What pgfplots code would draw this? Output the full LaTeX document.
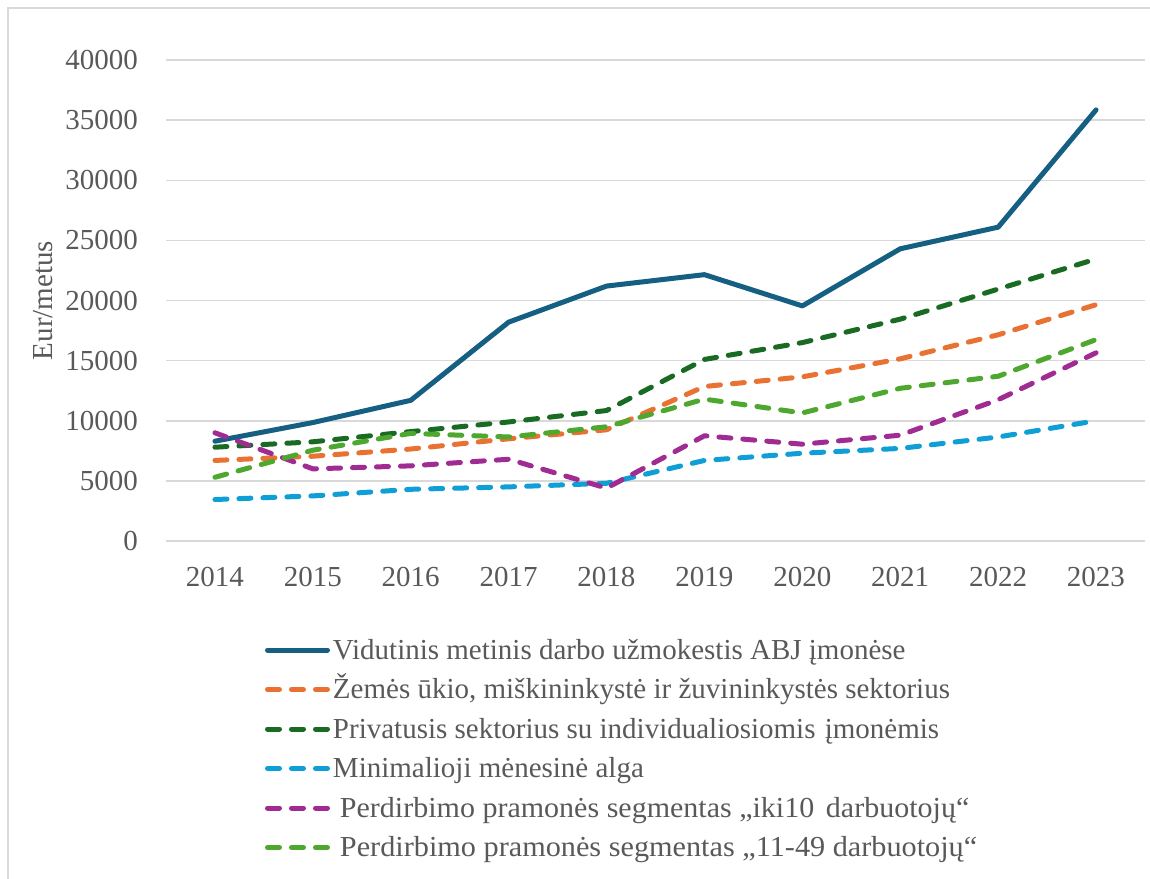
\documentclass[border=0pt]{standalone}
\usepackage{fontspec}
\setmainfont{Liberation Serif}
\usepackage{graphicx}
\usepackage{pgfplots}
\pgfplotsset{compat=1.18}
\definecolor{cA}{HTML}{156082}
\definecolor{cB}{HTML}{E97132}
\definecolor{cC}{HTML}{196B24}
\definecolor{cD}{HTML}{0F9ED5}
\definecolor{cE}{HTML}{A02B93}
\definecolor{cF}{HTML}{4EA72E}
\definecolor{gridgray}{HTML}{D9D9D9}
\definecolor{txtgray}{HTML}{595959}

\begin{document}
\fontsize{14.5bp}{17bp}\selectfont
\begin{tikzpicture}
\path[use as bounding box] (0,0) rectangle (575bp,-439.5bp);
\draw[gridgray, line width=0.75bp] (4bp,-440bp) -- (4bp,-4bp) -- (576bp,-4bp);
\begin{axis}[
    at={(83bp,-270.5bp)}, anchor=south west,
    scale only axis, width=489.5bp, height=240.5bp,
    xmin=2013.5, xmax=2023.5, ymin=0, ymax=40000,
    xtick={2014,...,2023}, ytick={0,5000,...,40000},
    scaled y ticks=false,
    /pgf/number format/assume math mode=true,
    /pgf/number format/set thousands separator={},
    ymajorgrids, major grid style={gridgray, line width=0.75bp},
    axis line style={draw=none}, major tick length=0pt,
    tick label style={font=\fontsize{14.5bp}{17bp}\selectfont, text=txtgray},
    xticklabel style={yshift=-8bp},
    yticklabel style={xshift=-9bp},
    ylabel={Eur/metus},
    ylabel style={at={(axis description cs:-0.126,0.5)}, anchor=center, font=\fontsize{14.5bp}{17bp}\selectfont, text=txtgray},
    every axis plot/.append style={line width=2.5bp, line cap=round, line join=round},
    legend image code/.code={\draw[#1] (1.25bp,0bp) -- (31.25bp,0bp);},
    legend cell align=left,
    legend style={at={(axis description cs:0.1011,-0.2079)}, anchor=north west,
        draw=none, fill=none, inner sep=0pt, outer sep=0pt, row sep=10.75bp,
        font=\fontsize{14.5bp}{17bp}\selectfont, text=txtgray,
        nodes={inner sep=0pt, text height=9bp, text depth=0bp},
        /tikz/every odd column/.style={column sep=1.5bp}},
]
\addplot[cA] coordinates {(2014,8300) (2015,9850) (2016,11700) (2017,18200) (2018,21200) (2019,22150) (2020,19550) (2021,24300) (2022,26100) (2023,35850)};
\addlegendentry{Vidutinis metinis darbo užmokestis ABJ įmonėse}
\addplot[cB, dash pattern=on 6bp off 6bp] coordinates {(2014,6700) (2015,7050) (2016,7650) (2017,8500) (2018,9250) (2019,12850) (2020,13650) (2021,15150) (2022,17150) (2023,19650)};
\addlegendentry{Žemės ūkio, miškininkystė ir žuvininkystės sektorius}
\addplot[cC, dash pattern=on 6bp off 6bp] coordinates {(2014,7800) (2015,8250) (2016,9100) (2017,9900) (2018,10850) (2019,15100) (2020,16500) (2021,18450) (2022,20950) (2023,23450)};
\addlegendentry{Privatusis sektorius su individualiosiomis \hspace{1bp}įmonėmis}
\addplot[cD, dash pattern=on 6bp off 6bp] coordinates {(2014,3450) (2015,3750) (2016,4300) (2017,4500) (2018,4800) (2019,6700) (2020,7300) (2021,7700) (2022,8650) (2023,10000)};
\addlegendentry{Minimalioji mėnesinė alga}
\addplot[cE, dash pattern=on 6bp off 6bp] coordinates {(2014,9000) (2015,6000) (2016,6250) (2017,6800) (2018,4400) (2019,8750) (2020,8050) (2021,8800) (2022,11750) (2023,15650)};
\addlegendentry{\hspace{3.5bp}\scalebox{1.035}[1]{Perdirbimo pramonės segmentas ,,iki10 \hspace{2bp}darbuotojų“}}
\addplot[cF, dash pattern=on 6bp off 6bp] coordinates {(2014,5300) (2015,7550) (2016,8950) (2017,8650) (2018,9500) (2019,11800) (2020,10650) (2021,12700) (2022,13700) (2023,16750)};
\addlegendentry{\hspace{3.5bp}\scalebox{1.043}[1]{Perdirbimo pramonės segmentas ,,11-49 darbuotojų“}}
\end{axis}
\end{tikzpicture}
\end{document}
